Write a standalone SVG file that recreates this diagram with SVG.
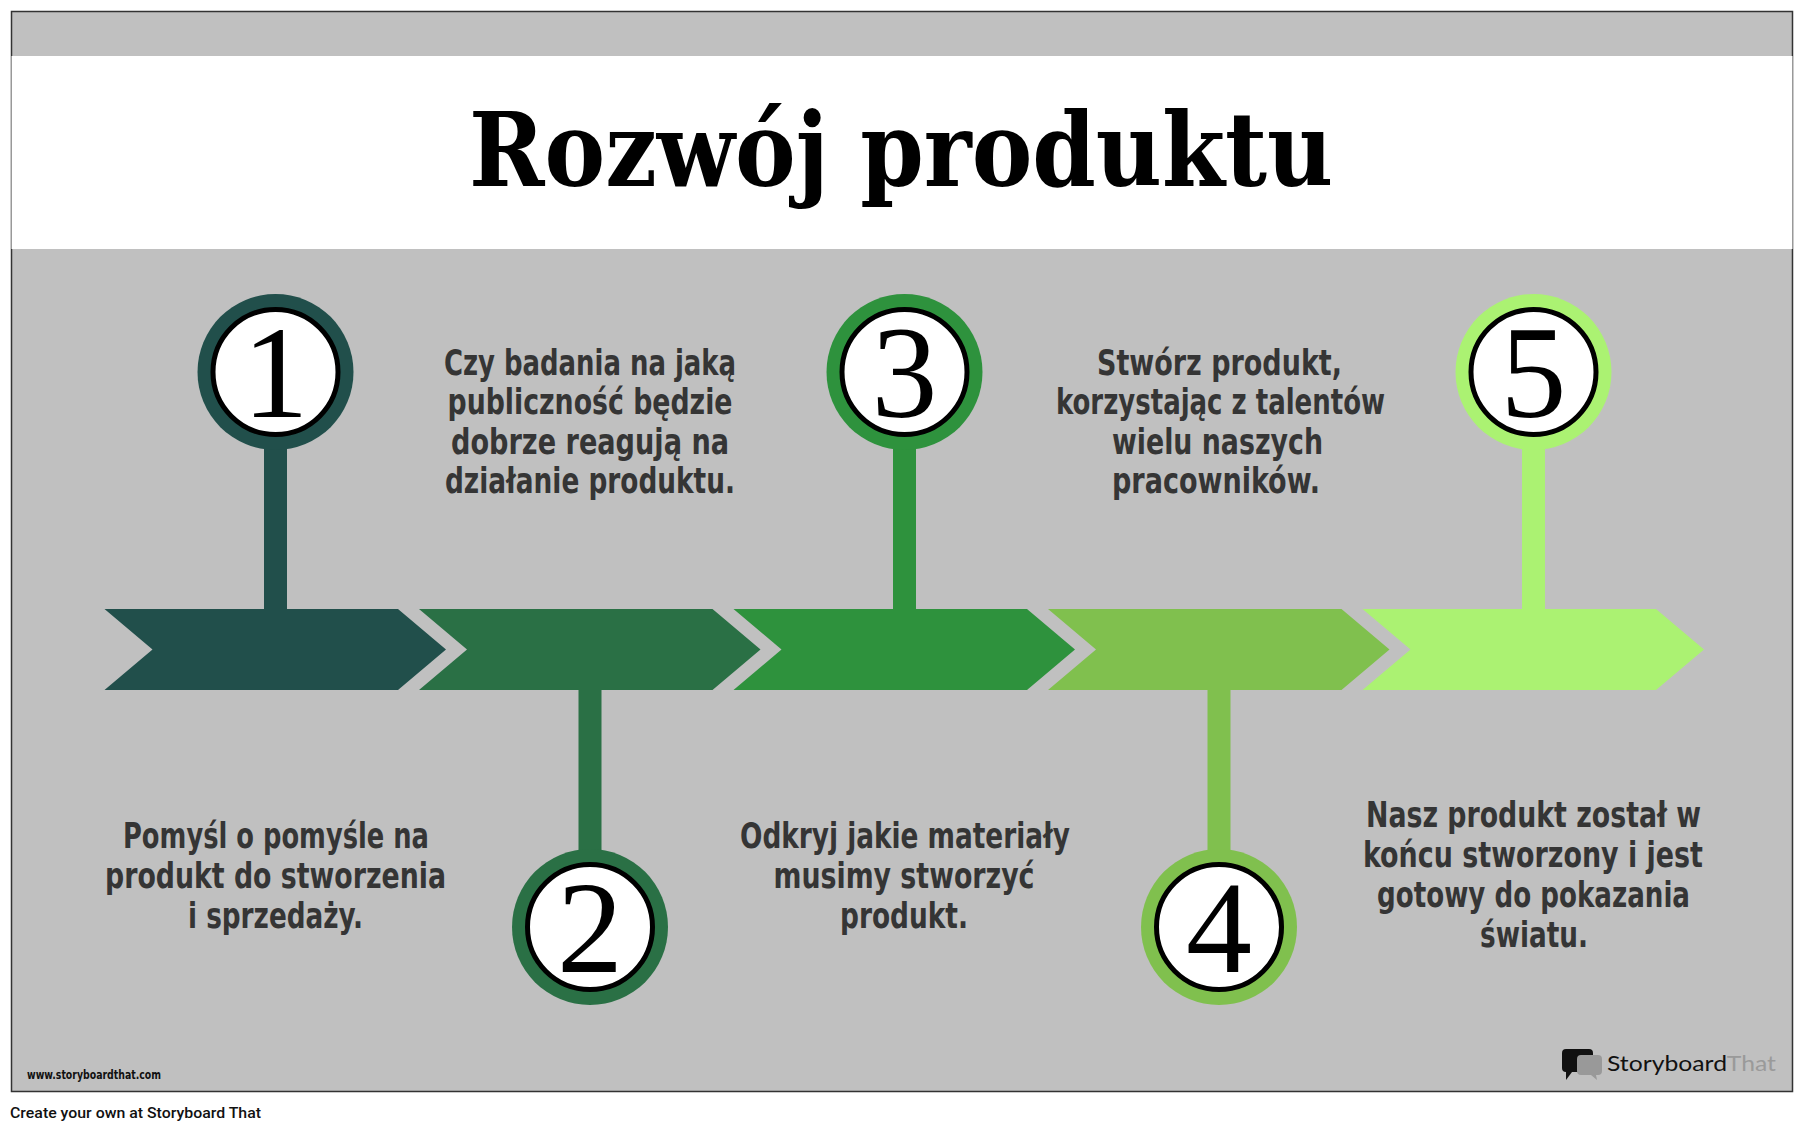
<svg xmlns="http://www.w3.org/2000/svg" width="1807" height="1132" viewBox="0 0 1807 1132">
<defs>
<style>
.body{font-family:"Liberation Sans Narrow","DejaVu Sans Condensed","Roboto",sans-serif;font-weight:bold;font-size:35px;fill:#353535;text-anchor:middle}
.num{font-family:"Liberation Serif","DejaVu Serif",serif;font-size:132px;fill:#000;text-anchor:middle}
.inner{fill:#fff;stroke:#000;stroke-width:5}
</style>
<polygon id="arrow" points="104.5,609 398,609 446,649.5 398,690 104.5,690 152.5,649.5"/>
</defs>
<rect x="0" y="0" width="1807" height="1132" fill="#fff"/>
<rect x="11.5" y="11.5" width="1781" height="1080" fill="#c0c0c0" stroke="#333" stroke-width="1.5"/>
<rect x="11.5" y="56" width="1781" height="193" fill="#fff"/>
<g id="title">
<text x="901" y="186" font-family="DejaVu Serif, Liberation Serif, serif" font-weight="bold" font-size="102" text-anchor="middle" textLength="864" lengthAdjust="spacingAndGlyphs" fill="#000">Rozwój produktu</text>
</g>
<g id="connectors">
<rect x="264" y="372" width="23" height="240" fill="#214f4b"/>
<rect x="578.5" y="687" width="23" height="240" fill="#2a7045"/>
<rect x="893" y="372" width="23" height="240" fill="#2e923d"/>
<rect x="1207.5" y="687" width="23" height="240" fill="#80c04e"/>
<rect x="1522" y="372" width="23" height="240" fill="#abf272"/>
</g>
<g id="arrows">
<use href="#arrow" fill="#214f4b"/>
<use href="#arrow" x="314.5" fill="#2a7045"/>
<use href="#arrow" x="629" fill="#2e923d"/>
<use href="#arrow" x="943.5" fill="#80c04e"/>
<use href="#arrow" x="1258" fill="#abf272"/>
</g>
<g id="node1">
<circle cx="275.5" cy="372" r="78" fill="#214f4b"/>
<circle cx="275.5" cy="372" r="62.5" class="inner"/>
<text x="275.5" y="417" class="num">1</text>
</g>
<g id="node2">
<circle cx="590" cy="927" r="78" fill="#2a7045"/>
<circle cx="590" cy="927" r="62.5" class="inner"/>
<text x="590" y="972" class="num">2</text>
</g>
<g id="node3">
<circle cx="904.5" cy="372" r="78" fill="#2e923d"/>
<circle cx="904.5" cy="372" r="62.5" class="inner"/>
<text x="904.5" y="417" class="num">3</text>
</g>
<g id="node4">
<circle cx="1219" cy="927" r="78" fill="#80c04e"/>
<circle cx="1219" cy="927" r="62.5" class="inner"/>
<text x="1219" y="972" class="num">4</text>
</g>
<g id="node5">
<circle cx="1533.5" cy="372" r="78" fill="#abf272"/>
<circle cx="1533.5" cy="372" r="62.5" class="inner"/>
<text x="1533.5" y="417" class="num">5</text>
</g>
<g id="text1">
<text class="body" x="276" y="848" textLength="306" lengthAdjust="spacingAndGlyphs">Pomyśl o pomyśle na</text>
<text class="body" x="275.5" y="888" textLength="341" lengthAdjust="spacingAndGlyphs">produkt do stworzenia</text>
<text class="body" x="275.5" y="928" textLength="175" lengthAdjust="spacingAndGlyphs">i sprzedaży.</text>
</g>
<g id="text2">
<text class="body" x="590" y="375" textLength="292" lengthAdjust="spacingAndGlyphs">Czy badania na jaką</text>
<text class="body" x="590" y="414" textLength="285" lengthAdjust="spacingAndGlyphs">publiczność będzie</text>
<text class="body" x="590" y="454" textLength="278" lengthAdjust="spacingAndGlyphs">dobrze reagują na</text>
<text class="body" x="590" y="493" textLength="290" lengthAdjust="spacingAndGlyphs">działanie produktu.</text>
</g>
<g id="text3">
<text class="body" x="905" y="848" textLength="330" lengthAdjust="spacingAndGlyphs">Odkryj jakie materiały</text>
<text class="body" x="904" y="888" textLength="261" lengthAdjust="spacingAndGlyphs">musimy stworzyć</text>
<text class="body" x="904" y="928" textLength="128" lengthAdjust="spacingAndGlyphs">produkt.</text>
</g>
<g id="text4">
<text class="body" x="1219.5" y="375" textLength="245" lengthAdjust="spacingAndGlyphs">Stwórz produkt,</text>
<text class="body" x="1220.5" y="414" textLength="329" lengthAdjust="spacingAndGlyphs">korzystając z talentów</text>
<text class="body" x="1217.5" y="454" textLength="211" lengthAdjust="spacingAndGlyphs">wielu naszych</text>
<text class="body" x="1216" y="493" textLength="208" lengthAdjust="spacingAndGlyphs">pracowników.</text>
</g>
<g id="text5">
<text class="body" x="1533.5" y="827" textLength="335" lengthAdjust="spacingAndGlyphs">Nasz produkt został w</text>
<text class="body" x="1533" y="867" textLength="340" lengthAdjust="spacingAndGlyphs">końcu stworzony i jest</text>
<text class="body" x="1533.5" y="907" textLength="313" lengthAdjust="spacingAndGlyphs">gotowy do pokazania</text>
<text class="body" x="1534" y="947" textLength="108" lengthAdjust="spacingAndGlyphs">światu.</text>
</g>
<g id="footer">
<text x="27" y="1079" font-family="Liberation Sans Narrow, DejaVu Sans Condensed, sans-serif" font-weight="bold" font-size="12" textLength="134" lengthAdjust="spacingAndGlyphs" fill="#111">www.storyboardthat.com</text>
<text x="10" y="1118" font-family="Roboto, Liberation Sans, sans-serif" font-weight="500" font-size="15" textLength="251" lengthAdjust="spacingAndGlyphs" fill="#111">Create your own at Storyboard That</text>
</g>
<g id="logo">
<path d="M1566,1049 h23 a4,4 0 0 1 4,4 v15 a4,4 0 0 1 -4,4 h-17 l-6,8 v-8 a4,4 0 0 1 -4,-4 v-15 a4,4 0 0 1 4,-4 z" fill="#111"/>
<path d="M1581,1055 h17 a4,4 0 0 1 4,4 v12 a4,4 0 0 1 -4,4 h-2 l1,5 l-6,-5 h-10 a4,4 0 0 1 -4,-4 v-12 a4,4 0 0 1 4,-4 z" fill="#999"/>
<text x="1607" y="1071" font-family="Lato, Noto Sans, sans-serif" font-size="22" textLength="169" lengthAdjust="spacingAndGlyphs"><tspan fill="#111">Storyboard</tspan><tspan fill="#9a9a9a">That</tspan></text>
</g>
</svg>
